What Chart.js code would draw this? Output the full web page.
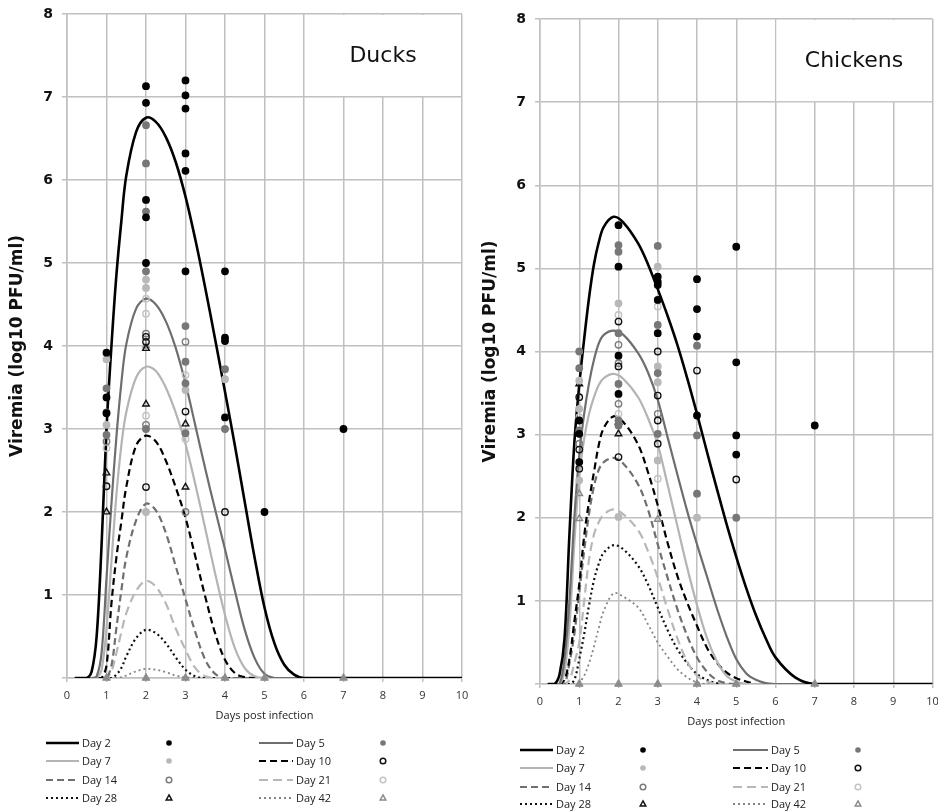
<!DOCTYPE html>
<html>
<head>
<meta charset="utf-8">
<script src="https://cdn.jsdelivr.net/npm/chart.js"></script>
<style>
  body { margin: 0; background: #fff; }
  #wrap { position: relative; width: 938px; height: 811px; overflow: hidden; }
  .panel { position: absolute; top: 0; width: 469px; height: 811px; }
</style>
</head>
<body>
<div id="wrap">
  <div class="panel" style="left:0"><canvas id="ducks"></canvas></div>
  <div class="panel" style="left:469px"><canvas id="chickens"></canvas></div>
</div>
<script>
const dayLabels = ["Day 2", "Day 5", "Day 7", "Day 10", "Day 14", "Day 21", "Day 28", "Day 42"];
const xTicks = [0, 1, 2, 3, 4, 5, 6, 7, 8, 9, 10];
const yTicks = [0, 1, 2, 3, 4, 5, 6, 7, 8];

// fitted curves, ducks
const duckX = [0.2, 0.5, 0.625, 0.75, 0.875, 1, 1.125, 1.25, 1.375, 1.5, 1.75, 2, 2.25, 2.5, 2.75, 3, 3.25, 3.5, 3.75, 4, 4.25, 4.5, 4.75, 5, 5.25, 5.5, 5.75, 6, 10];
const duckDay2 = [0, 0, 0.08, 0.5, 1.6, 3.0, 4.0, 4.85, 5.5, 6.05, 6.58, 6.75, 6.7, 6.52, 6.22, 5.8, 5.28, 4.7, 4.08, 3.45, 2.8, 2.12, 1.45, 0.85, 0.42, 0.16, 0.04, 0, 0];
const duckDay5 = [0, 0, 0, 0.02, 0.3, 1.2, 2.1, 2.9, 3.55, 4.02, 4.45, 4.57, 4.5, 4.3, 3.98, 3.55, 3.04, 2.52, 2.03, 1.55, 1.05, 0.58, 0.24, 0.05, 0, 0, 0, 0, 0];
const duckDay7 = [0, 0, 0, 0, 0.1, 0.6, 1.4, 2.2, 2.8, 3.2, 3.62, 3.75, 3.7, 3.5, 3.2, 2.82, 2.33, 1.8, 1.26, 0.76, 0.36, 0.12, 0.02, 0, 0, 0, 0, 0, 0];
const duckDay10 = [0, 0, 0, 0, 0, 0.15, 0.9, 1.45, 1.88, 2.3, 2.8, 2.92, 2.85, 2.62, 2.3, 1.93, 1.46, 0.98, 0.54, 0.22, 0.06, 0.01, 0, 0, 0, 0, 0, 0, 0];
const duckDay14 = [0, 0, 0, 0, 0, 0, 0.15, 0.6, 1.05, 1.45, 1.9, 2.1, 2.02, 1.75, 1.35, 0.95, 0.55, 0.22, 0.05, 0, 0, 0, 0, 0, 0, 0, 0, 0, 0];
const duckDay21 = [0, 0, 0, 0, 0, 0, 0.08, 0.3, 0.55, 0.78, 1.05, 1.17, 1.1, 0.9, 0.6, 0.34, 0.12, 0.02, 0, 0, 0, 0, 0, 0, 0, 0, 0, 0, 0];
const duckDay28 = [0, 0, 0, 0, 0, 0, 0, 0.04, 0.12, 0.26, 0.48, 0.58, 0.54, 0.42, 0.25, 0.1, 0.02, 0, 0, 0, 0, 0, 0, 0, 0, 0, 0, 0, 0];
const duckDay42 = [0, 0, 0, 0, 0, 0, 0, 0, 0.01, 0.03, 0.08, 0.11, 0.1, 0.07, 0.03, 0.01, 0, 0, 0, 0, 0, 0, 0, 0, 0, 0, 0, 0, 0];

// observed titres, ducks [day post infection, log10 PFU/ml]
const duckObs2 = [[1, 3.92], [1, 3.38], [1, 3.19], [2, 7.13], [2, 6.93], [2, 5.76], [2, 5.55], [2, 5.0], [3, 7.2], [3, 7.02], [3, 6.86], [3, 6.32], [3, 6.11], [3, 4.9], [4, 4.9], [4, 4.1], [4, 4.06], [4, 3.14], [5, 2.0], [7, 3.0]];
const duckObs5 = [[1, 3.49], [1, 3.2], [1, 2.93], [2, 6.66], [2, 6.2], [2, 5.62], [2, 4.9], [2, 3.0], [3, 4.24], [3, 3.81], [3, 3.55], [3, 2.95], [4, 3.72], [4, 3.0]];
const duckObs7 = [[1, 3.84], [1, 3.05], [2, 4.8], [2, 4.7], [2, 2.0], [3, 3.47], [4, 3.6]];
const duckObs10 = [[1, 2.31], [2, 4.11], [2, 4.05], [2, 2.3], [3, 3.21], [4, 2.0]];
const duckObs14 = [[1, 2.85], [2, 4.15], [2, 3.05], [3, 4.05], [3, 2.0]];
const duckObs21 = [[1, 2.77], [2, 4.57], [2, 4.39], [2, 3.16], [3, 3.65], [3, 2.88]];
const duckObs28 = [[1, 2.47], [1, 2.0], [2, 3.97], [2, 3.3], [3, 3.06], [3, 2.3]];
const duckObs42 = [[2, 4.0]];
const duckZeroX = [1, 2, 3, 4, 5, 7];

// fitted curves, chickens
const chickX = [0.2, 0.375, 0.5, 0.625, 0.75, 0.875, 1, 1.125, 1.25, 1.375, 1.5, 1.625, 1.875, 2.125, 2.5, 2.75, 3, 3.25, 3.5, 3.75, 4, 4.25, 4.5, 4.75, 5, 5.25, 5.5, 5.75, 6, 6.5, 7, 10];
const chickDay2 = [0, 0, 0.12, 0.55, 1.8, 2.9, 3.6, 4.15, 4.65, 5.05, 5.32, 5.5, 5.62, 5.55, 5.3, 5.05, 4.75, 4.43, 4.08, 3.68, 3.25, 2.8, 2.36, 1.93, 1.53, 1.16, 0.83, 0.55, 0.32, 0.08, 0, 0];
const chickDay5 = [0, 0, 0, 0.3, 1.0, 2.0, 2.75, 3.25, 3.62, 3.9, 4.1, 4.2, 4.25, 4.2, 3.98, 3.75, 3.42, 2.97, 2.52, 2.08, 1.68, 1.3, 0.92, 0.58, 0.3, 0.13, 0.05, 0.01, 0, 0, 0, 0];
const chickDay7 = [0, 0, 0, 0.15, 0.7, 1.7, 2.5, 2.95, 3.25, 3.45, 3.6, 3.68, 3.73, 3.67, 3.45, 3.2, 2.88, 2.4, 1.9, 1.4, 0.95, 0.56, 0.28, 0.1, 0.03, 0, 0, 0, 0, 0, 0, 0];
const chickDay10 = [0, 0, 0, 0.05, 0.3, 0.75, 1.2, 1.78, 2.2, 2.55, 2.88, 3.08, 3.22, 3.15, 2.88, 2.55, 2.15, 1.7, 1.3, 0.98, 0.7, 0.44, 0.26, 0.14, 0.07, 0.03, 0, 0, 0, 0, 0, 0];
const chickDay14 = [0, 0, 0, 0, 0.25, 0.6, 1.1, 1.6, 2.05, 2.38, 2.58, 2.67, 2.72, 2.65, 2.4, 2.1, 1.68, 1.28, 0.9, 0.58, 0.32, 0.15, 0.05, 0.01, 0, 0, 0, 0, 0, 0, 0, 0];
const chickDay21 = [0, 0, 0, 0, 0.05, 0.25, 0.5, 1.0, 1.5, 1.8, 1.95, 2.04, 2.1, 2.04, 1.85, 1.6, 1.28, 0.9, 0.55, 0.27, 0.1, 0.03, 0, 0, 0, 0, 0, 0, 0, 0, 0, 0];
const chickDay28 = [0, 0, 0, 0, 0, 0.05, 0.3, 0.6, 0.95, 1.25, 1.45, 1.58, 1.67, 1.62, 1.42, 1.2, 0.92, 0.65, 0.42, 0.25, 0.12, 0.05, 0.01, 0, 0, 0, 0, 0, 0, 0, 0, 0];
const chickDay42 = [0, 0, 0, 0, 0, 0, 0.02, 0.1, 0.25, 0.45, 0.68, 0.88, 1.09, 1.05, 0.92, 0.72, 0.5, 0.33, 0.18, 0.08, 0.02, 0, 0, 0, 0, 0, 0, 0, 0, 0, 0, 0];

// observed titres, chickens
const chickObs2 = [[1, 3.17], [1, 3.01], [1, 2.67], [2, 5.52], [2, 5.02], [2, 3.95], [2, 3.49], [3, 4.9], [3, 4.84], [3, 4.8], [3, 4.62], [3, 4.22], [4, 4.87], [4, 4.51], [4, 4.18], [4, 3.23], [5, 5.26], [5, 3.87], [5, 2.99], [5, 2.76], [7, 3.11]];
const chickObs5 = [[1, 4.0], [1, 3.8], [1, 3.05], [2, 5.28], [2, 5.2], [2, 4.22], [2, 3.61], [2, 3.17], [2, 3.11], [3, 5.27], [3, 4.32], [3, 3.74], [3, 3.01], [4, 4.07], [4, 2.99], [4, 2.29], [5, 2.0]];
const chickObs7 = [[1, 3.65], [1, 3.31], [1, 2.45], [2, 4.58], [2, 2.01], [3, 5.02], [3, 3.82], [3, 3.63], [3, 2.69], [4, 2.0]];
const chickObs10 = [[1, 3.45], [1, 2.82], [1, 2.59], [2, 4.36], [2, 3.82], [2, 2.73], [3, 4.0], [3, 3.47], [3, 3.17], [3, 2.89], [4, 3.77], [5, 2.46]];
const chickObs14 = [[1, 2.89], [2, 4.08], [2, 3.86], [2, 3.37], [3, 3.25]];
const chickObs21 = [[1, 3.21], [2, 4.44], [2, 3.25], [3, 4.54], [3, 2.47]];
const chickObs28 = [[1, 3.61], [2, 3.01], [2, 3.15]];
const chickObs42 = [[1, 2.29], [1, 1.99], [3, 1.98]];
const chickZeroX = [1, 2, 3, 4, 5, 7];

const lineStyles = [
    { color: "#000000", width: 2.6, dash: [] },
    { color: "#6e6e6e", width: 2.2, dash: [] },
    { color: "#b4b4b4", width: 2.2, dash: [] },
    { color: "#000000", width: 2.2, dash: [7, 4] },
    { color: "#707070", width: 2.2, dash: [7, 4] },
    { color: "#b8b8b8", width: 2.2, dash: [9, 5] },
    { color: "#111111", width: 2.2, dash: [2, 3] },
    { color: "#858585", width: 1.8, dash: [2, 3] },
];
const markStyles = [
    { shape: "circle", fill: "#000000", stroke: "#000000" },
    { shape: "circle", fill: "#777777", stroke: "#777777" },
    { shape: "circle", fill: "#b8b8b8", stroke: "#b8b8b8" },
    { shape: "circle", fill: null, stroke: "#111111" },
    { shape: "circle", fill: null, stroke: "#7a7a7a" },
    { shape: "circle", fill: null, stroke: "#c4c4c4" },
    { shape: "triangle", fill: null, stroke: "#111111" },
    { shape: "triangle", fill: null, stroke: "#8a8a8a" },
];

function drawMark(ctx, m, x, y, r) {
    ctx.save();
    ctx.beginPath();
    if (m.shape === "circle") {
        ctx.arc(x, y, r, 0, Math.PI * 2);
    } else {
        ctx.moveTo(x, y - r * 1.1);
        ctx.lineTo(x + r, y + r * 0.7);
        ctx.lineTo(x - r, y + r * 0.7);
        ctx.closePath();
    }
    ctx.lineWidth = 1.5;
    if (m.fill) {
        ctx.fillStyle = m.fill;
        ctx.fill();
    } else {
        ctx.strokeStyle = m.stroke;
        ctx.stroke();
    }
    ctx.restore();
}

// white box with the species name in the top right corner
const labelBox = {
    id: "labelBox",
    beforeDatasetsDraw(chart, args, opts) {
        const { ctx, scales: { x, y } } = chart;
        const l = x.getPixelForValue(6), r = x.getPixelForValue(10);
        const t = y.getPixelForValue(8), b = y.getPixelForValue(7);
        ctx.save();
        ctx.fillStyle = "#fff";
        ctx.fillRect(l + 1, t + 1, r - l - 2, b - t - 2);
        ctx.fillStyle = "#111";
        ctx.font = '22px "DejaVu Sans"';
        ctx.textAlign = "center";
        ctx.textBaseline = "middle";
        ctx.fillText(opts.text, (l + r) / 2, (t + b) / 2 + 1);
        ctx.restore();
    },
};

// 4 x 2 legend under the x axis
const gridLegend = {
    id: "gridLegend",
    afterDraw(chart, args, opts) {
        const ctx = chart.ctx;
        ctx.save();
        ctx.font = '11px "Open Sans"';
        ctx.textBaseline = "middle";
        [[0, 2, 4, 6], [1, 3, 5, 7]].forEach((col, c) => {
            const cc = opts.cols[c];
            col.forEach((di, r) => {
                const y = opts.rows[r];
                const s = lineStyles[di];
                ctx.beginPath();
                ctx.setLineDash(s.dash);
                ctx.strokeStyle = s.color;
                ctx.lineWidth = s.width;
                ctx.moveTo(cc.l1, y);
                ctx.lineTo(cc.l2, y);
                ctx.stroke();
                ctx.setLineDash([]);
                ctx.fillStyle = "#222";
                ctx.fillText(dayLabels[di], cc.t, y + 1);
                drawMark(ctx, markStyles[di], cc.m, y, 2.8);
            });
        });
        ctx.restore();
    },
};

function makeChart(id, o) {
    const datasets = [];
    o.obs.forEach((pts, i) => {
        const m = markStyles[i];
        datasets.push({
            label: dayLabels[i] + " observed",
            data: pts.map((p) => ({ x: p[0], y: p[1] })),
            pointStyle: m.shape,
            pointRadius: m.shape === "triangle" ? 3.8 : 3.2,
            pointBorderWidth: 1.4,
            pointBackgroundColor: m.fill || "rgba(255,255,255,0)",
            pointBorderColor: m.stroke,
            showLine: false,
            clip: 8,
            order: 0,
        });
    });
    datasets.push({
        label: "below detection",
        data: o.zeroX.map((x) => ({ x: x, y: 0 })),
        pointStyle: "triangle",
        pointRadius: 4.5,
        pointBackgroundColor: "#8c8c8c",
        pointBorderColor: "#8c8c8c",
        showLine: false,
        clip: 8,
        order: 0,
    });
    o.curves.forEach((ys, i) => {
        const s = lineStyles[i];
        datasets.push({
            label: dayLabels[i],
            data: o.xs.map((x, j) => ({ x: x, y: ys[j] })),
            showLine: true,
            pointRadius: 0,
            borderColor: s.color,
            borderWidth: s.width,
            borderDash: s.dash,
            tension: 0.35,
            fill: false,
            order: 1,
        });
    });

    new Chart(document.getElementById(id), {
        type: "scatter",
        data: { datasets: datasets },
        plugins: [labelBox, gridLegend],
        options: {
            responsive: true,
            maintainAspectRatio: false,
            animation: false,
            events: [],
            layout: { padding: o.padding },
            plugins: {
                legend: { display: false },
                tooltip: { enabled: false },
                labelBox: { text: o.title },
                gridLegend: { rows: o.legendRows, cols: o.legendCols },
            },
            scales: {
                x: {
                    type: "linear",
                    min: xTicks[0],
                    max: xTicks[xTicks.length - 1],
                    afterBuildTicks: (scale) => { scale.ticks = xTicks.map((v) => ({ value: v })); },
                    afterFit: (scale) => { scale.height = 50; scale.paddingLeft = 0; scale.paddingRight = 0; },
                    grid: { color: "#c0c0c0", lineWidth: 1.5, tickLength: 4 },
                    border: { color: "#c0c0c0", width: 1.5 },
                    ticks: { color: "#333", padding: 7, font: { family: "Open Sans", size: 11 } },
                    title: {
                        display: true,
                        text: "Days post infection",
                        color: "#222",
                        padding: { top: 0, bottom: 6 },
                        font: { family: "Open Sans", size: 11 },
                    },
                },
                y: {
                    type: "linear",
                    min: yTicks[0],
                    max: yTicks[yTicks.length - 1],
                    afterBuildTicks: (scale) => { scale.ticks = yTicks.map((v) => ({ value: v })); },
                    afterFit: (scale) => { scale.width = o.yWidth; scale.paddingTop = 0; scale.paddingBottom = 0; },
                    grid: { color: "#c0c0c0", lineWidth: 1.5, tickLength: 5 },
                    border: { color: "#c0c0c0", width: 1.5 },
                    ticks: {
                        color: "#111",
                        padding: 9,
                        font: { family: "DejaVu Sans", size: 14, weight: "bold" },
                        callback: (v) => (v === 0 ? "" : v),
                    },
                    title: {
                        display: true,
                        text: "Viremia (log10 PFU/ml)",
                        color: "#111",
                        padding: { top: o.titlePad, bottom: 0 },
                        font: { family: "DejaVu Sans", size: 17, weight: "bold" },
                    },
                },
            },
        },
    });
}

makeChart("ducks", {
    title: "Ducks",
    xs: duckX,
    curves: [duckDay2, duckDay5, duckDay7, duckDay10, duckDay14, duckDay21, duckDay28, duckDay42],
    obs: [duckObs2, duckObs5, duckObs7, duckObs10, duckObs14, duckObs21, duckObs28, duckObs42],
    zeroX: duckZeroX,
    padding: { left: 0, right: 7, top: 14, bottom: 83 },
    yWidth: 67,
    titlePad: 7,
    legendRows: [743, 761, 780, 798],
    legendCols: [{ l1: 46, l2: 79, t: 82, m: 169 }, { l1: 259, l2: 293, t: 296, m: 383 }],
});

makeChart("chickens", {
    title: "Chickens",
    xs: chickX,
    curves: [chickDay2, chickDay5, chickDay7, chickDay10, chickDay14, chickDay21, chickDay28, chickDay42],
    obs: [chickObs2, chickObs5, chickObs7, chickObs10, chickObs14, chickObs21, chickObs28, chickObs42],
    zeroX: chickZeroX,
    padding: { left: 0, right: 3, top: 19, bottom: 77 },
    yWidth: 71,
    titlePad: 11,
    legendRows: [750, 768, 787, 804],
    legendCols: [{ l1: 51, l2: 84, t: 87, m: 174 }, { l1: 264, l2: 299, t: 302, m: 389 }],
});
</script>
</body>
</html>
